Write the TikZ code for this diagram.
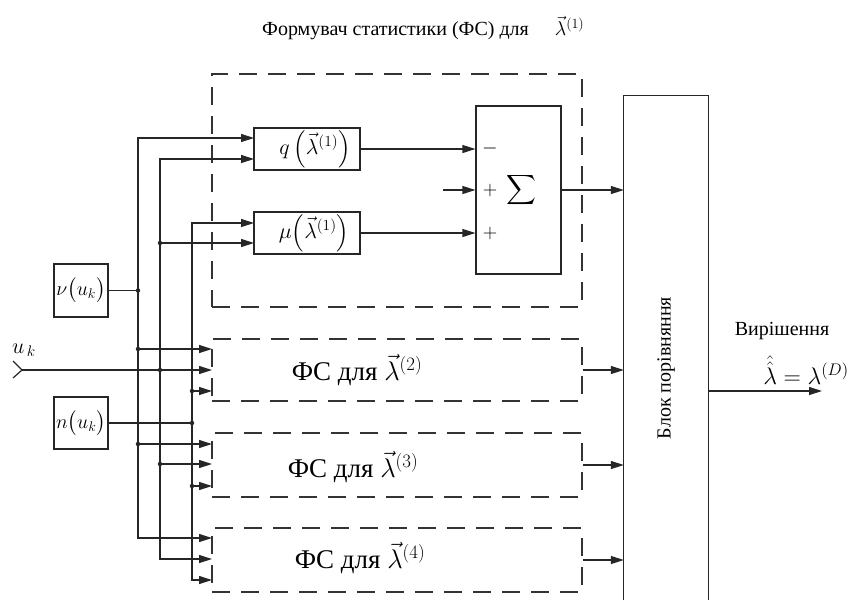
\RequirePackage{fix-cm}
\documentclass[tikz,border=0pt]{standalone}
\usepackage{exscale}
\usepackage{graphicx}
\usepackage{fontspec}
\setmainfont{Liberation Serif}
\usetikzlibrary{arrows.meta}
\begin{document}
\begin{tikzpicture}[x=1pt,y=-1pt,
  ln/.style={line width=1.2pt,draw=black!85},
  arr/.style={ln,-{Triangle[length=13pt,width=8pt]}},
  blk/.style={ln,rectangle,inner sep=0pt},
  fsbox/.style={rectangle,inner sep=0pt,draw=black!80,line width=1.3pt,dash pattern=on 18pt off 11pt},
  dot/.style={circle,fill=black!85,inner sep=0pt,minimum size=4.5pt},
  txt/.style={inner sep=0pt,font=\fontsize{20}{24}\selectfont},
  big/.style={inner sep=0pt,font=\fontsize{27}{32}\selectfont}]
\useasboundingbox (0,0) rectangle (858,600);
% title
\node[txt,anchor=west] (title) at (262,28) {Формувач статистики (ФС) для\hspace{26pt}$\vec{\lambda}^{(1)}$};
% dashed boxes
\node[fsbox,minimum width=370pt,minimum height=233pt] (fs1) at (397,190.5) {};
\node[fsbox,minimum width=370pt,minimum height=62pt] (fs2) at (397,370) {};
\node[fsbox,minimum width=370pt,minimum height=64pt] (fs3) at (397,465) {};
\node[fsbox,minimum width=370pt,minimum height=64pt] (fs4) at (397,560) {};
\node[big] (t2) at (357,370) {ФС для $\vec{\lambda}^{(2)}$};
\node[big] (t3) at (353,467) {ФС для $\vec{\lambda}^{(3)}$};
\node[big] (t4) at (360,558) {ФС для $\vec{\lambda}^{(4)}$};
% inner blocks
\node[blk,minimum width=106pt,minimum height=42pt,font=\fontsize{22}{26}\selectfont] (q) at (307,149) {\hspace*{16pt}$q\left(\rule[-13pt]{0pt}{36pt}\vec{\lambda}^{(1)}\right)$};
\node[blk,minimum width=106pt,minimum height=42pt,font=\fontsize{22}{26}\selectfont] (mu) at (307,233) {\hspace*{14pt}$\mu\!\left(\rule[-13pt]{0pt}{36pt}\vec{\lambda}^{(1)}\right)$};
\node[blk,minimum width=85pt,minimum height=168pt] (sig) at (518.5,190) {};
\node[txt] (sigsym) at (521,190) {$\displaystyle\sum$};
\node[txt] (mns) at (490,148) {$-$};
\node[txt] (pl1) at (490,190) {$+$};
\node[txt] (pl2) at (490,233) {$+$};
% comparison block
\node[inner sep=0pt,minimum width=84pt,minimum height=504pt] (cmp) at (666,348) {};
\draw[ln] (cmp.south west) -- (cmp.north west) -- (cmp.north east) -- (cmp.south east);
\node[txt,rotate=90] (cmptxt) at (666,368) {Блок порівняння};
% source blocks
\node[blk,minimum width=54pt,minimum height=53pt,font=\fontsize{20}{24}\selectfont] (nu) at (81,290.5) {$\nu\!\left(\rule[-7pt]{0pt}{24pt}u_k\right)$};
\node[blk,minimum width=54pt,minimum height=52pt,font=\fontsize{20}{24}\selectfont] (nn) at (81,423) {$n\!\left(\rule[-7pt]{0pt}{24pt}u_k\right)$};
% input u_k
\coordinate (uin) at (22,370);
\coordinate (ch1) at (13,361);
\coordinate (ch2) at (13,378);
\draw[ln] (ch1) -- (uin) -- (ch2);
\node[inner sep=0pt,font=\fontsize{22}{26}\selectfont] (ulab) at (24,350) {$u_{\,k}$};
% buses
\coordinate (b1t) at (138,138); \coordinate (b1b) at (138,538);
\coordinate (b2t) at (160,159); \coordinate (b2b) at (160,559);
\coordinate (b3t) at (192,223); \coordinate (b3b) at (192,580);
% input points
\coordinate (qi1) at (254,138); \coordinate (qi2) at (254,159);
\coordinate (mi1) at (254,223); \coordinate (mi2) at (254,243);
\coordinate (f2a) at (212,349); \coordinate (f2b) at (212,370); \coordinate (f2c) at (212,391);
\coordinate (f3a) at (212,444); \coordinate (f3b) at (212,464); \coordinate (f3c) at (212,486);
\coordinate (f4a) at (212,538); \coordinate (f4b) at (212,559); \coordinate (f4c) at (212,580);
% bus 1 (nu)
\draw[arr] (b1b) -- (b1t) -- (qi1);
\draw[arr] (b1t) -- (b1b) -- (f4a);
\draw[ln] (nu.east) -- (nu.east -| b1t);
\node[dot] at (nu.east -| b1t) {};
\draw[arr] (b1t |- f2a) -- (f2a); \node[dot] at (b1t |- f2a) {};
\draw[arr] (b1t |- f3a) -- (f3a); \node[dot] at (b1t |- f3a) {};
% bus 2 (u_k)
\draw[arr] (b2b) -- (b2t) -- (qi2);
\draw[arr] (b2t) -- (b2b) -- (f4b);
\draw[arr] (b2t |- mi2) -- (mi2); \node[dot] at (b2t |- mi2) {};
\draw[arr] (uin) -- (f2b); \node[dot] at (b2t |- f2b) {};
\draw[arr] (b2t |- f3b) -- (f3b); \node[dot] at (b2t |- f3b) {};
% bus 3 (n)
\draw[arr] (b3b) -- (b3t) -- (mi1);
\draw[arr] (b3t) -- (b3b) -- (f4c);
\draw[ln] (nn.east) -- (nn.east -| b3t);
\node[dot] at (nn.east -| b3t) {};
\draw[arr] (b3t |- f2c) -- (f2c); \node[dot] at (b3t |- f2c) {};
\draw[arr] (b3t |- f3c) -- (f3c); \node[dot] at (b3t |- f3c) {};
% inner connections
\coordinate (sin) at (443,190);
\draw[arr] (q.east) -- (sig.west |- q.east);
\draw[arr] (mu.east) -- (sig.west |- mu.east);
\draw[arr] (sin) -- (sig.west);
\draw[arr] (sig.east) -- (cmp.west |- sig.east);
\draw[arr] (fs2.east) -- (cmp.west |- fs2.east);
\draw[arr] (fs3.east) -- (cmp.west |- fs3.east);
\draw[arr] (fs4.east) -- (cmp.west |- fs4.east);
% output
\coordinate (dec) at (822,391);
\draw[arr] (cmp.east |- dec) -- (dec);
\node[txt] (declab) at (782,331) {Вирішення};
\node[inner sep=0pt,font=\fontsize{24}{28}\selectfont] (decf) at (806,370) {$\hat{\hat{\lambda}} = \lambda^{(D)}$};
\end{tikzpicture}
\end{document}
